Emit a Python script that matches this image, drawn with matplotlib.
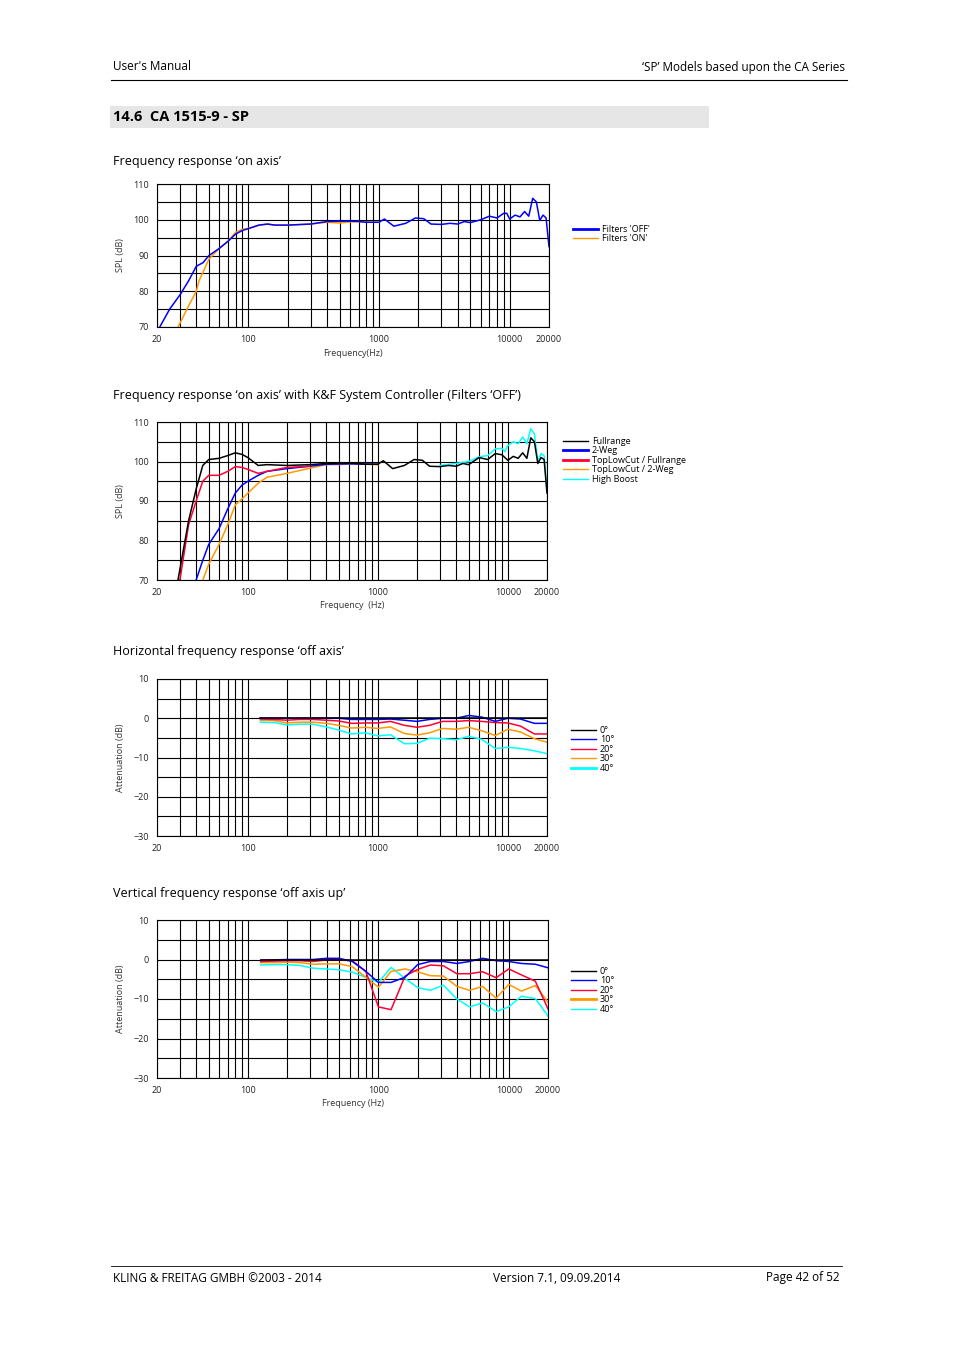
import matplotlib
matplotlib.use("Agg")
import matplotlib.pyplot as plt
from matplotlib.lines import Line2D

plt.rcParams['font.family'] = 'Open Sans'
W, H = 954, 1351

# ---------- data ----------
f1_off = [21,25,30,35,40,45,50,60,70,80,90,100,120,140,160,200,300,400,500,600,700,800,1000,1100,1300,1600,1900,2200,2500,3000,3500,4000,4500,5000,6000,7000,8000,9000,9500,10000,11000,12000,13000,14000,15000,16000,17000,18000,19000,20000]
v1_off = [70,75,79,83,87,88,90,92,94,96,97,97.5,98.5,98.8,98.5,98.5,98.8,99.5,99.6,99.6,99.5,99.3,99.3,100.2,98.2,99,100.5,100.3,98.8,98.7,99,98.8,99.5,99.2,100,101,100.5,101.8,101.8,100.2,101.3,100.8,102.3,101,106,105,99.8,101.3,100.5,92.5]
f1_on = [29,35,40,42,50,60,70,80,90,100,120,140,160,200,300,400,500,600,700,800,1000]
v1_on = [70,76,80,83,89,92,94,96.5,97.3,97.6,98.4,98.8,98.5,98.5,98.8,99.3,99.1,99.4,99.5,99.3,99.3]

f2_full = [29,35,40,45,50,60,70,80,90,100,120,140,200,300,400,500,600,700,800,1000,1100,1300,1600,1900,2200,2500,3000,3500,4000,4500,5000,6000,7000,8000,9000,10000,11000,12000,13000,14000,15000,16000,17000,18000,19000,20000]
v2_full = [70,85,93,99,100.5,100.8,101.5,102.2,101.8,101,99,99.2,99,99.2,99.5,99.6,99.6,99.5,99.3,99.3,100.2,98.2,99,100.5,100.3,98.8,98.7,99,98.8,99.5,99.2,101,100.5,102,101.7,100.3,101.3,100.8,102.2,100.8,106,105,99.5,101,100.5,92]
f2_2weg = [40,45,50,60,70,80,90,100,120,140,200,300,400,600,1000]
v2_2weg = [70,75,79,83,88,92,94,95,96.5,97.5,98.2,98.8,99.3,99.4,99.3]
f2_tlc_full = [30,35,40,45,50,60,70,80,90,100,120,140,200,300]
v2_tlc_full = [70,84,90,95,96.5,96.5,97.5,98.7,98.5,98,97,97.5,98.5,98.8]
f2_tlc_2weg = [45,50,60,70,80,90,100,120,140,200,300,400,500,600,700,1000]
v2_tlc_2weg = [70,74,79,84,89,90.5,92,94.5,96,97,98.3,99.2,99.2,99.4,99.4,99.2]
f2_boost = [3000,4000,5000,6000,7000,8000,9000,9500,10000,11000,12000,13000,14000,15000,16000,17000,18000,19000,20000]
v2_boost = [99,99.5,100,101.2,101.5,103.2,103.3,102.5,104,105,104.5,106.2,104.5,108.3,107,100,102,101.5,92.5]

f_oct = [125,160,200,250,315,400,500,630,800,1000,1250,1600,2000,2500,3150,4000,5000,6300,8000,10000,12500,16000,20000]
h_0 = [0]*23
h_10 = [0,0,0,0,0,0,0,-0.3,-0.3,-0.3,-0.2,-0.5,-0.8,-0.3,0,0,0.7,0.3,-0.8,0,-0.2,-1.3,-1.3]
h_20 = [-0.2,-0.3,-0.5,-0.3,-0.3,-0.5,-0.7,-1.3,-1.2,-1.2,-0.8,-1.8,-2.3,-1.8,-0.8,-0.8,-0.6,-0.8,-1.1,-1.2,-2,-4,-4]
h_30 = [-0.5,-0.6,-1.2,-1,-1,-1.3,-1.8,-2.5,-2.3,-2.6,-2.2,-3.9,-4.3,-3.7,-2.6,-2.8,-2.3,-3.2,-4.4,-2.8,-3.5,-5.2,-6.1]
h_40 = [-1,-1.1,-1.7,-1.5,-1.5,-2.2,-3,-4,-3.7,-4.5,-4.2,-6.5,-6.4,-5.1,-5.2,-5.5,-4.6,-5.4,-7.7,-7.4,-7.7,-8.3,-9]
v_0 = [0]*23
v_10 = [-0.2,-0.1,0,0,0,0.3,0.3,-0.5,-3,-5.8,-5.8,-4.5,-1.3,-0.5,-0.5,-1,-0.5,0.3,-0.3,-0.5,-1,-1.2,-2.1]
v_20 = [-0.5,-0.4,-0.3,-0.3,-0.5,-0.1,-0.1,-0.3,-3,-12,-12.7,-4.2,-2.5,-1.4,-1.6,-3.6,-3.6,-3.1,-4.6,-2.4,-3.9,-5.5,-12.5]
v_30 = [-0.8,-0.8,-0.7,-0.8,-1.2,-1.1,-1.1,-1.8,-4.5,-7,-3,-2.4,-3.1,-4.1,-4.2,-6.8,-7.8,-6.8,-9.8,-6.3,-8,-6.6,-10.8]
v_40 = [-1.4,-1.3,-1.3,-1.5,-2.2,-2.4,-2.6,-3.2,-4.5,-5.8,-2,-4.8,-7.1,-7.8,-6.5,-10,-12,-11,-13.2,-12,-9.3,-9.9,-14.3]

x_labels = [20, 100, 1000, 10000, 20000]
x_grid = [30,40,50,60,70,80,90,200,300,400,500,600,700,800,900,2000,3000,4000,5000,6000,7000,8000,9000]
angles = ['0°', '10°', '20°', '30°', '40°']
angle_colors = ['black', '#0000ff', '#ff0033', '#ff9900', '#00ffff']

fig = plt.figure(figsize=(W/100, H/100), dpi=100)

def ax_px(l, t, r, b):
    return fig.add_axes([l/W, 1-b/H, (r-l)/W, (b-t)/H])

def style(ax, ylo, yhi, ylabel, xlabel=None):
    ax.set_xscale('log')
    ax.set_xlim(20, 20000)
    ax.set_ylim(ylo, yhi)
    ax.set_xticks(x_labels)
    ax.set_xticklabels([str(v) for v in x_labels])
    ax.set_xticks(x_grid, minor=True)
    ax.set_xticklabels([], minor=True)
    ax.set_yticks(range(ylo, yhi+1, 10))
    ax.set_yticks(range(ylo+5, yhi, 10), minor=True)
    ax.tick_params(which='both', length=0, labelsize=6.5, colors='#222222', pad=6)
    ax.grid(which='both', color='black', lw=0.8)
    ax.set_axisbelow(True)
    for s in ax.spines.values():
        s.set_linewidth(0.8)
    ax.set_ylabel(ylabel, fontsize=6.5, color='#333333', labelpad=6)
    if xlabel:
        ax.set_xlabel(xlabel, fontsize=6.5, color='#333333', labelpad=3)

def leg(handles_labels, x, y):
    hs = [Line2D([], [], color=c, lw=lw) for c, lw, _ in handles_labels]
    fig.legend(hs, [l for _, _, l in handles_labels], loc='upper left',
               bbox_to_anchor=(x/W, 1-y/H), frameon=False, fontsize=6.5,
               handlelength=2.8, handletextpad=0.4, labelspacing=0.05,
               borderpad=0, borderaxespad=0)

# header / footer
fig.text(113/W, 1-67/H, "User's Manual", fontsize=8.5, va='center')
fig.text(845/W, 1-67/H, "‘SP’ Models based upon the CA Series", fontsize=8.5, va='center', ha='right')
fig.add_artist(Line2D([111/W, 847/W], [1-80/H, 1-80/H], color='black', lw=0.8))
fig.add_artist(plt.Rectangle((110/W, 1-128/H), 599/W, 22/H, color='#e6e6e6', lw=0))
fig.text(113/W, 1-117/H, "14.6  CA 1515-9 - SP", fontsize=10.5, weight='bold', va='center')
fig.add_artist(Line2D([111/W, 842/W], [1-1266/H, 1-1266/H], color='black', lw=0.6))
fig.text(113/W, 1-1278/H, "KLING & FREITAG GMBH ©2003 - 2014", fontsize=8.5, va='center')
fig.text(557/W, 1-1278/H, "Version 7.1, 09.09.2014", fontsize=8.5, va='center', ha='center')
fig.text(840/W, 1-1278/H, "Page 42 of 52", fontsize=8.5, va='center', ha='right')

# chart 1
fig.text(113/W, 1-161/H, "Frequency response ‘on axis’", fontsize=9, va='center')
ax1 = ax_px(157, 184, 549, 327)
style(ax1, 70, 110, 'SPL (dB)', 'Frequency(Hz)')
ax1.plot(f1_on, v1_on, color='#ff9900', lw=1.1)
ax1.plot(f1_off, v1_off, color='#0000ff', lw=1.1)
leg([('#0000ff', 2, "Filters 'OFF'"), ('#ff9900', 1, "Filters 'ON'")], 573, 225)

# chart 2
fig.text(113/W, 1-396/H, "Frequency response ‘on axis’ with K&F System Controller (Filters ‘OFF’)", fontsize=9, va='center')
ax2 = ax_px(157, 422, 547, 580)
style(ax2, 70, 110, 'SPL (dB)', 'Frequency  (Hz)')
ax2.plot(f2_tlc_2weg, v2_tlc_2weg, color='#ff9900', lw=1.1)
ax2.plot(f2_2weg, v2_2weg, color='#0000ff', lw=1.1)
ax2.plot(f2_tlc_full, v2_tlc_full, color='#ff0033', lw=1.1)
ax2.plot(f2_boost, v2_boost, color='#00ffff', lw=1.1)
ax2.plot(f2_full, v2_full, color='black', lw=1.1)
leg([('black', 1, 'Fullrange'), ('#0000ff', 2, '2-Weg'), ('#ff0033', 2, 'TopLowCut / Fullrange'),
     ('#ff9900', 1, 'TopLowCut / 2-Weg'), ('#00ffff', 1, 'High Boost')], 563, 437)

# chart 3
fig.text(113/W, 1-652/H, "Horizontal frequency response ‘off axis’", fontsize=9, va='center')
ax3 = ax_px(157, 679, 547, 836)
style(ax3, -30, 10, 'Attenuation (dB)')
for vals, c in zip([h_40, h_30, h_20, h_10, h_0], angle_colors[::-1]):
    ax3.plot(f_oct, vals, color=c, lw=1.1)
leg([(c, 2 if a == '40°' else 1, a) for c, a in zip(angle_colors, angles)], 571, 726)

# chart 4
fig.text(113/W, 1-893/H, "Vertical frequency response ‘off axis up’", fontsize=9, va='center')
ax4 = ax_px(157, 920, 548, 1078)
style(ax4, -30, 10, 'Attenuation (dB)', 'Frequency (Hz)')
for vals, c in zip([v_40, v_30, v_20, v_10, v_0], angle_colors[::-1]):
    ax4.plot(f_oct, vals, color=c, lw=1.1)
leg([(c, 2 if a == '30°' else 1, a) for c, a in zip(angle_colors, angles)], 571, 967)

fig.savefig('out.png', dpi=100)
